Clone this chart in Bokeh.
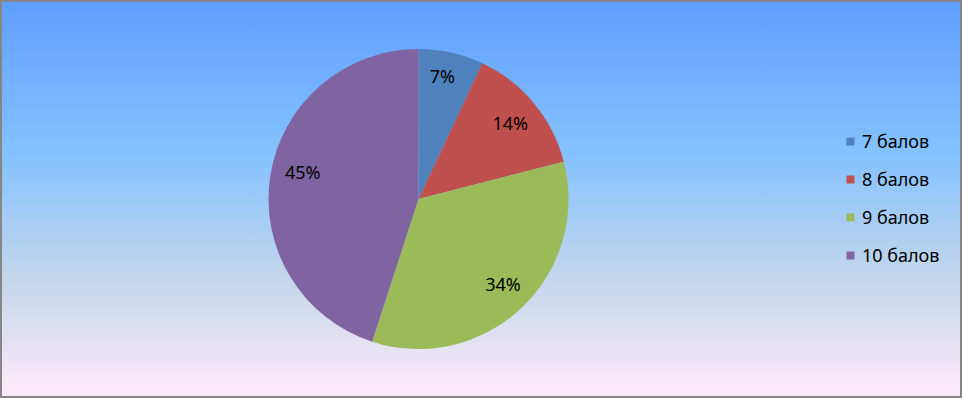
import math
from bokeh.plotting import figure
from bokeh.models import Range1d, Legend, LegendItem, ColumnDataSource
from bokeh.core.properties import value
from bokeh.embed import file_html
from bokeh.resources import INLINE

# ---- data ----
categories = ["7 балов", "8 балов", "9 балов", "10 балов"]
shares = [7, 14, 34, 45]
pct_labels = ["7%", "14%", "34%", "45%"]

# ---- style ----
colors = ["#4F81BD", "#C0504D", "#9BBB59", "#8064A2"]
W, H = 962, 398
cx, cy, R = 418, 199.5, 150
label_r = [125, 119, 120, 119]
label_nudge_deg = [-1.6, 0, -1.6, 4.3]
FONT = "Noto Sans"

total = float(sum(shares))
starts, ends, lx, ly = [], [], [], []
cum = 0.0
for i, s in enumerate(shares):
    a0 = math.pi / 2 - 2 * math.pi * cum / total
    cum += s
    a1 = math.pi / 2 - 2 * math.pi * cum / total
    starts.append(a0)
    ends.append(a1)
    mid = (a0 + a1) / 2 - math.radians(label_nudge_deg[i])
    lx.append(cx + label_r[i] * math.cos(mid))
    ly.append(cy + label_r[i] * math.sin(mid))

p = figure(width=W, height=H, output_backend="svg", toolbar_location=None,
           x_range=Range1d(0, W), y_range=Range1d(0, H), min_border=0)
p.axis.visible = False
p.grid.visible = False
p.outline_line_color = None
p.background_fill_color = None
p.border_fill_color = None
p.styles = {
    "background": "linear-gradient(to bottom, #5E9EFF 0%, #85C2FF 39%, #C4D6EB 70%, #FFEBFA 100%)",
    "box-shadow": "inset 0 0 0 2px #868686",
}

items = []
for i, cat in enumerate(categories):
    src = ColumnDataSource(dict(x=[cx], y=[cy], s=[starts[i]], e=[ends[i]]))
    r = p.wedge(x="x", y="y", radius=R, start_angle="s", end_angle="e",
                direction="clock", source=src, fill_color=colors[i],
                line_color=None)
    items.append(LegendItem(label=cat, renderers=[r]))

p.text(x=lx, y=ly, text=pct_labels, text_align="center", text_baseline="middle",
       text_font=value(FONT), text_font_size="18px", text_color="#000000")

legend = Legend(items=items, location=(845, 131), orientation="vertical",
                background_fill_alpha=0, border_line_color=None, padding=0,
                margin=0, spacing=14, glyph_width=10, glyph_height=10,
                label_standoff=7, label_height=20,
                label_text_font=FONT, label_text_font_size="18px",
                label_text_color="#000000")
p.add_layout(legend)

open("out.html", "w").write(file_html(p, INLINE))
